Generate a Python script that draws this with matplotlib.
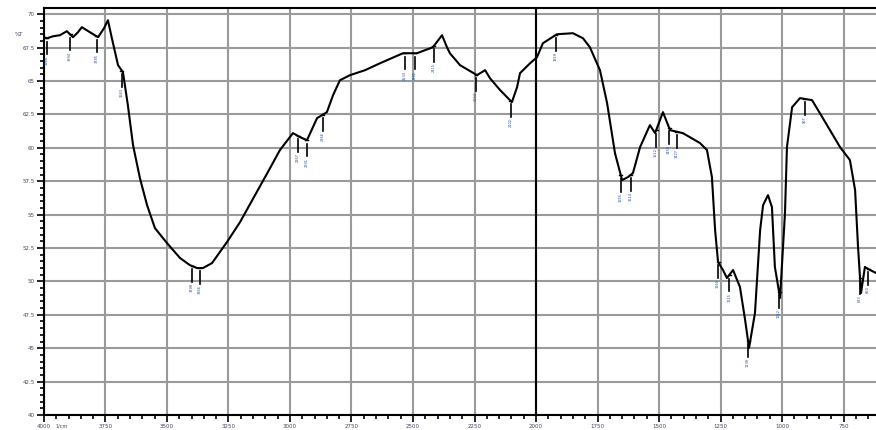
import numpy as np
import matplotlib
matplotlib.use("Agg")
import matplotlib.pyplot as plt
from matplotlib.ticker import MultipleLocator, FuncFormatter

# spectrum (wavenumber 1/cm, %T)
wavenumber = [4000, 3988, 3963, 3935, 3907, 3882, 3862, 3846, 3813, 3780,
              3756, 3740, 3724, 3699, 3679, 3659, 3638, 3610, 3581, 3549,
              3500, 3447, 3407, 3378, 3354, 3317, 3256, 3203, 3142, 3081,
              3041, 2988, 2959, 2931, 2890, 2850, 2825, 2797, 2756, 2695,
              2634, 2541, 2484, 2419, 2382, 2362, 2350, 2309, 2240, 2207,
              2187, 2146, 2098, 2077, 2065, 2024, 1996, 1972, 1915, 1850,
              1809, 1781, 1740, 1711, 1679, 1650, 1626, 1606, 1577, 1537,
              1516, 1484, 1455, 1403, 1333, 1305, 1285, 1272, 1260, 1240,
              1224, 1199, 1171, 1150, 1134, 1110, 1089, 1077, 1057, 1041,
              1029, 1008, 988, 980, 959, 927, 878, 846, 764, 724,
              703, 691, 679, 663, 642, 618]
transmittance = [68.28, 68.20, 68.35, 68.43, 68.73, 68.28, 68.65, 69.03, 68.65, 68.28,
                 68.95, 69.55, 68.20, 66.19, 65.66, 63.19, 60.20, 57.73, 55.71, 53.99,
                 52.87, 51.75, 51.22, 51.00, 51.00, 51.37, 52.95, 54.44, 56.46, 58.48,
                 59.83, 61.10, 60.80, 60.57, 62.22, 62.67, 63.94, 65.06, 65.44, 65.81,
                 66.33, 67.08, 67.08, 67.53, 68.43, 67.53, 67.08, 66.19, 65.44, 65.81,
                 65.21, 64.32, 63.42, 64.54, 65.59, 66.33, 66.78, 67.83, 68.50, 68.58,
                 68.20, 67.53, 65.81, 63.34, 59.60, 57.58, 57.81, 58.11, 60.05, 61.70,
                 61.10, 62.67, 61.32, 61.10, 60.35, 59.83, 57.81, 53.84, 51.45, 50.85,
                 50.25, 50.85, 49.58, 47.11, 45.02, 47.63, 53.84, 55.71, 56.46, 55.56,
                 51.08, 48.76, 55.11, 60.05, 63.04, 63.72, 63.57, 62.59, 60.05, 59.08,
                 56.84, 52.57, 49.13, 51.08, 50.85, 50.63]

# peak picks
peaks = [3988, 3894, 3785, 3683, 3398, 3366, 2967, 2931, 2866, 2533,
         2492, 2415, 2244, 2102, 1919, 1655, 1614, 1512, 1459, 1427,
         1260, 1215, 1138, 1012, 907, 683, 650]

x_ticks = [4000, 3750, 3500, 3250, 3000, 2750, 2500, 2250, 2000,
           1750, 1500, 1250, 1000, 750]

fig = plt.figure(figsize=(8.76, 4.30), dpi=100)
ax = fig.add_axes([0.0502, 0.0349, 0.9498, 0.946])

ax.plot(wavenumber, transmittance, color="black", lw=1.5)

# peak markers
wn_sorted = np.array(wavenumber[::-1])
t_sorted = np.array(transmittance[::-1])
for p in peaks:
    t = np.interp(p, wn_sorted, t_sorted)
    ax.plot([p, p], [t - 0.25, t - 1.2], color="black", lw=1.2)
    ax.plot([p + 6, p - 6], [t, t], color="black", lw=1.0)
    ax.text(p, t - 1.3, f"{p}", rotation=90, fontsize=2.5, color="#1f4e9c",
            ha="center", va="top")

ax.set_xlim(4000, 618)
ax.set_ylim(40, 70.45)

ax.set_xticks(x_ticks)
ax.xaxis.set_minor_locator(MultipleLocator(50))
ax.yaxis.set_major_locator(MultipleLocator(2.5))
ax.yaxis.set_minor_locator(MultipleLocator(0.5))
ax.yaxis.set_major_formatter(FuncFormatter(lambda v, _: f"{v:g}"))

ax.grid(True, which="major", color="#9a9a9a", lw=1.5)
ax.axvline(2000, color="black", lw=1.5)

for side in ["left", "bottom", "top"]:
    ax.spines[side].set_linewidth(1.5)
ax.spines["right"].set_visible(False)

ax.tick_params(which="major", direction="out", length=5, width=1.2,
               labelsize=4, labelcolor="#444466", pad=1.5)
ax.tick_params(which="minor", direction="out", length=3, width=1.2)

ax.text(-0.03, 0.935, "%T", transform=ax.transAxes, fontsize=4,
        ha="center", va="center", color="#444466")
ax.text(0.014, -0.033, "1/cm", transform=ax.transAxes, fontsize=3.5,
        ha="left", va="bottom", color="#444466")

fig.savefig("out.png", dpi=100)
